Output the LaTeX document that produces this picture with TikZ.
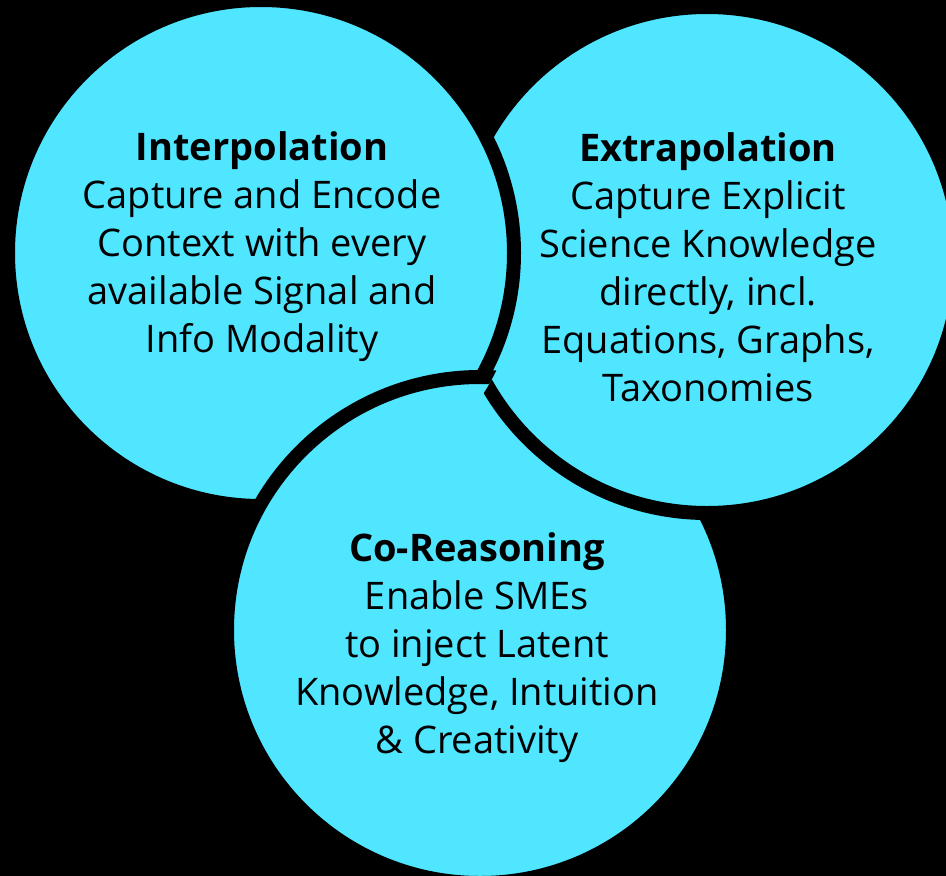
\documentclass[tikz,border=0pt]{standalone}
\usepackage{fontspec}
\setmainfont{Open Sans}
\definecolor{circcyan}{HTML}{50E6FF}
\begin{document}
\begin{tikzpicture}[x=1pt,y=-1pt,
  circ/.style={circle, fill=circcyan, draw=black, line width=14pt, minimum size=506pt, inner sep=0pt},
  circpath/.style={fill=circcyan, draw=black, line width=14pt},
  lbl/.style={align=center, text=black, inner sep=0pt, font=\fontsize{38}{48}\selectfont}]
\useasboundingbox (0,0) rectangle (946,876);
\fill[black] (0,0) rectangle (946,876);
% circles: bottom, right, left, then bottom again over left (cyclic overlap)
\node[circ] (B) at (480,630) {};
\node[circ] (R) at (707,260) {};
\node[circ] (L) at (261,253) {};
\begin{scope}
  \clip (L.center) circle[radius=263pt];
  \path[circpath] (B.center) circle[radius=253pt];
\end{scope}
% texts
\node[lbl] (tL) at (262,247) {\textbf{Interpolation}\\Capture and Encode\\Context with every\\available Signal and\\Info Modality};
\node[lbl] (tR) at (708,267) {\textbf{Extrapolation}\\Capture Explicit\\Science Knowledge\\directly, incl.\\Equations, Graphs,\\Taxonomies};
\node[lbl] (tB) at (477,648) {\textbf{Co-Reasoning}\\Enable SMEs\\to inject Latent\\Knowledge, Intuition\\\& Creativity};
\end{tikzpicture}
\end{document}
